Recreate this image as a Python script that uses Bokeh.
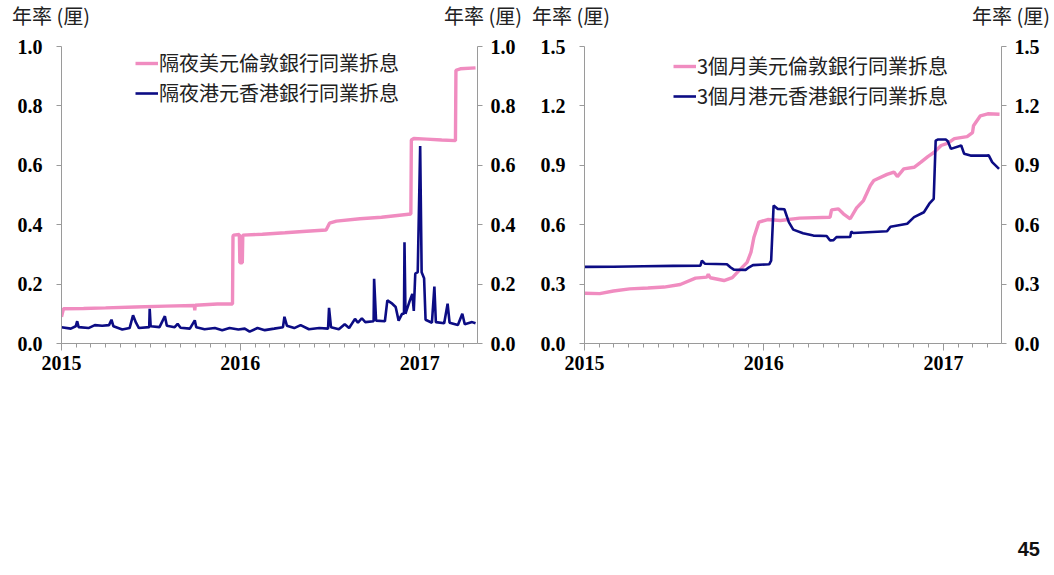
import pandas as pd
from bokeh.plotting import figure
from bokeh.models import (Range1d, LinearAxis, FixedTicker, NumeralTickFormatter,
                          DatetimeTickFormatter, Legend, LegendItem, Div)
from bokeh.layouts import row, column
from bokeh.embed import file_html
from bokeh.resources import INLINE

# ---------------- data ----------------
year_ticks = ["2015-01-01", "2016-01-01", "2017-01-01"]
x_start, x_end = "2015-01-01", "2017-04-29"

on_usd_dates = ["2015-01-01", "2015-01-05", "2015-02-15", "2015-04-01", "2015-06-01", "2015-08-01",
                "2015-09-29", "2015-09-30", "2015-10-01", "2015-11-15", "2015-12-16", "2015-12-17",
                "2015-12-18", "2015-12-30", "2015-12-31", "2016-01-05", "2016-01-06", "2016-02-15",
                "2016-04-01", "2016-05-15", "2016-06-24", "2016-07-01", "2016-07-15", "2016-09-01",
                "2016-10-15", "2016-12-14", "2016-12-15", "2016-12-20", "2017-01-15", "2017-02-15",
                "2017-03-15", "2017-03-16", "2017-03-25", "2017-04-25"]
on_usd_vals = [0.090, 0.117, 0.118, 0.120, 0.123, 0.126,
               0.128, 0.112, 0.129, 0.133, 0.133, 0.360,
               0.365, 0.367, 0.272, 0.272, 0.365, 0.368,
               0.373, 0.378, 0.382, 0.405, 0.412, 0.420,
               0.425, 0.436, 0.685, 0.690, 0.688, 0.685,
               0.683, 0.920, 0.925, 0.928]

on_hkd_dates = ["2015-01-01", "2015-01-20", "2015-01-30", "2015-02-02", "2015-02-05", "2015-02-25",
                "2015-03-10", "2015-03-25", "2015-04-08", "2015-04-13", "2015-04-17", "2015-05-05",
                "2015-05-20", "2015-05-27", "2015-06-02", "2015-06-08", "2015-06-29", "2015-06-30",
                "2015-07-02", "2015-07-20", "2015-07-31", "2015-08-04", "2015-08-20", "2015-08-26",
                "2015-09-01", "2015-09-20", "2015-09-30", "2015-10-03", "2015-10-20", "2015-11-10",
                "2015-11-25", "2015-12-10", "2015-12-28", "2016-01-10", "2016-01-20", "2016-02-05",
                "2016-02-20", "2016-03-10", "2016-03-28", "2016-03-31", "2016-04-05", "2016-04-20",
                "2016-05-03", "2016-05-20", "2016-06-10", "2016-06-28", "2016-06-30", "2016-07-04",
                "2016-07-20", "2016-08-01", "2016-08-10", "2016-08-22", "2016-08-28", "2016-09-05",
                "2016-09-12", "2016-09-29", "2016-09-30", "2016-10-04", "2016-10-22", "2016-10-27",
                "2016-11-06", "2016-11-13", "2016-11-19", "2016-11-26", "2016-11-30", "2016-12-01",
                "2016-12-03", "2016-12-12", "2016-12-17", "2016-12-20", "2016-12-23", "2016-12-28",
                "2017-01-02", "2017-01-05", "2017-01-10", "2017-01-13", "2017-01-26", "2017-01-31",
                "2017-02-03", "2017-02-20", "2017-02-27", "2017-03-03", "2017-03-20", "2017-03-29",
                "2017-04-03", "2017-04-18", "2017-04-25"]
on_hkd_vals = [0.055, 0.050, 0.058, 0.075, 0.055, 0.052,
               0.062, 0.060, 0.062, 0.080, 0.058, 0.047,
               0.052, 0.095, 0.070, 0.052, 0.055, 0.117,
               0.058, 0.055, 0.092, 0.060, 0.055, 0.066,
               0.053, 0.050, 0.078, 0.055, 0.048, 0.052,
               0.045, 0.052, 0.047, 0.050, 0.040, 0.052,
               0.045, 0.050, 0.055, 0.090, 0.060, 0.052,
               0.062, 0.048, 0.052, 0.050, 0.120, 0.055,
               0.048, 0.065, 0.052, 0.083, 0.070, 0.085,
               0.072, 0.075, 0.218, 0.077, 0.075, 0.145,
               0.134, 0.123, 0.077, 0.100, 0.100, 0.341,
               0.100, 0.145, 0.167, 0.110, 0.235, 0.240,
               0.665, 0.240, 0.220, 0.080, 0.070, 0.192,
               0.072, 0.068, 0.134, 0.070, 0.062, 0.100,
               0.065, 0.072, 0.068]

m3_usd_dates = ["2015-01-01", "2015-02-01", "2015-03-01", "2015-04-03", "2015-05-10", "2015-06-12",
                "2015-07-15", "2015-08-15", "2015-09-07", "2015-09-10", "2015-09-14", "2015-10-12",
                "2015-10-29", "2015-11-12", "2015-11-28", "2015-12-06", "2015-12-12", "2015-12-22",
                "2016-01-09", "2016-02-04", "2016-03-14", "2016-05-15", "2016-05-18", "2016-06-01",
                "2016-06-11", "2016-06-25", "2016-07-08", "2016-07-22", "2016-08-05", "2016-08-12",
                "2016-09-08", "2016-09-22", "2016-09-29", "2016-10-12", "2016-11-02", "2016-11-16",
                "2016-11-30", "2016-12-13", "2016-12-27", "2017-01-10", "2017-01-23", "2017-02-18",
                "2017-03-01", "2017-03-03", "2017-03-17", "2017-04-01", "2017-04-25"]
m3_usd_vals = [0.254, 0.252, 0.265, 0.276, 0.280, 0.285,
               0.298, 0.330, 0.335, 0.350, 0.332, 0.318,
               0.333, 0.369, 0.410, 0.461, 0.537, 0.613,
               0.626, 0.621, 0.633, 0.638, 0.675, 0.680,
               0.655, 0.630, 0.685, 0.722, 0.798, 0.823,
               0.854, 0.866, 0.843, 0.882, 0.890, 0.916,
               0.944, 0.966, 1.000, 1.012, 1.035, 1.045,
               1.065, 1.100, 1.150, 1.160, 1.158]

m3_hkd_dates = ["2015-01-01", "2015-03-01", "2015-05-01", "2015-07-01", "2015-08-25", "2015-08-28",
                "2015-09-03", "2015-10-18", "2015-10-25", "2015-11-01", "2015-11-25", "2015-12-02",
                "2015-12-10", "2016-01-12", "2016-01-16", "2016-01-21", "2016-01-29", "2016-02-12",
                "2016-02-21", "2016-03-01", "2016-03-21", "2016-04-11", "2016-05-08", "2016-05-15",
                "2016-05-22", "2016-05-28", "2016-06-25", "2016-06-27", "2016-07-01", "2016-09-08",
                "2016-09-15", "2016-10-19", "2016-11-02", "2016-11-22", "2016-12-03", "2016-12-12",
                "2016-12-16", "2016-12-20", "2017-01-06", "2017-01-10", "2017-01-16", "2017-02-06",
                "2017-02-12", "2017-02-25", "2017-03-30", "2017-04-03", "2017-04-10", "2017-04-24"]
m3_hkd_vals = [0.387, 0.388, 0.390, 0.392, 0.393, 0.418,
               0.403, 0.400, 0.385, 0.373, 0.372, 0.385,
               0.396, 0.400, 0.418, 0.697, 0.680, 0.678,
               0.613, 0.575, 0.557, 0.545, 0.543, 0.520,
               0.522, 0.537, 0.538, 0.565, 0.558, 0.567,
               0.590, 0.605, 0.638, 0.663, 0.706, 0.731,
               1.025, 1.030, 1.030, 1.020, 0.983, 1.000,
               0.958, 0.949, 0.949, 0.950, 0.916, 0.882]

left_ticks = [0.0, 0.2, 0.4, 0.6, 0.8, 1.0]
right_ticks = [0.0, 0.3, 0.6, 0.9, 1.2, 1.5]

unit_label = "年率 (厘)"
left_names = ["隔夜美元倫敦銀行同業拆息", "隔夜港元香港銀行同業拆息"]
right_names = ["3個月美元倫敦銀行同業拆息", "3個月港元香港銀行同業拆息"]
page_no = "45"

# ---------------- style ----------------
PINK = "#f08cc0"
NAVY = "#0c0c84"
AXIS = "#9a9a9a"
CJK = "Noto Sans CJK TC"
SERIF = "Liberation Serif"

year_ms = [pd.Timestamp(d).value / 1e6 for d in year_ticks]
month_ms = [t.value / 1e6 for t in pd.date_range("2015-01-01", "2017-04-01", freq="MS")]


def make_chart(width, bl, br, ymax, yticks, usd_d, usd_v, hkd_d, hkd_v, names, legend_xy):
    p = figure(width=width, height=353, output_backend="svg", toolbar_location=None,
               x_axis_type="datetime",
               x_range=Range1d(pd.Timestamp(x_start), pd.Timestamp(x_end)),
               y_range=Range1d(0, ymax),
               min_border_left=bl, min_border_right=br, min_border_top=16, min_border_bottom=40)
    p.outline_line_color = None
    p.grid.visible = False
    p.background_fill_color = "white"

    r1 = p.line(pd.to_datetime(usd_d), usd_v, line_color=PINK, line_width=3.4)
    r2 = p.line(pd.to_datetime(hkd_d), hkd_v, line_color=NAVY, line_width=2.6)

    xa = p.xaxis[0]
    xa.ticker = FixedTicker(ticks=year_ms, minor_ticks=month_ms)
    xa.formatter = DatetimeTickFormatter(years="%Y", months="%Y", days="%Y", hours="%Y",
                                         minutes="%Y", seconds="%Y", milliseconds="%Y",
                                         microseconds="%Y", hourmin="%Y", minsec="%Y")
    ya = p.yaxis[0]
    ya.ticker = FixedTicker(ticks=yticks)
    ya.formatter = NumeralTickFormatter(format="0.0")
    ra = LinearAxis(ticker=FixedTicker(ticks=yticks), formatter=NumeralTickFormatter(format="0.0"))
    p.add_layout(ra, "right")

    for ax in [xa, ya, ra]:
        ax.axis_line_color = AXIS
        ax.major_tick_line_color = AXIS
        ax.minor_tick_line_color = AXIS
        ax.major_label_text_font = SERIF
        ax.major_label_text_font_style = "bold"
        ax.major_label_text_font_size = "20px"
        ax.major_label_text_color = "black"
        ax.major_tick_in = 0
        ax.minor_tick_in = 0
    xa.major_tick_out = 7
    xa.minor_tick_out = 4
    xa.major_label_standoff = 5
    for ax in [ya, ra]:
        ax.major_tick_out = 5
        ax.minor_tick_line_color = None
    ya.major_label_standoff = 14
    ra.major_label_standoff = 8

    legend = Legend(items=[LegendItem(label=names[0], renderers=[r1]),
                           LegendItem(label=names[1], renderers=[r2])],
                    location=legend_xy, orientation="vertical",
                    background_fill_alpha=0, border_line_alpha=0,
                    padding=0, margin=0, spacing=1,
                    glyph_width=23, glyph_height=26, label_height=26, label_standoff=1,
                    label_text_font=CJK, label_text_font_size="20px", label_text_color="#222222")
    p.add_layout(legend)
    return p


p1 = make_chart(530, 61, 53, 1.0, left_ticks, on_usd_dates, on_usd_vals, on_hkd_dates, on_hkd_vals,
                left_names, (74, 236))
p2 = make_chart(522, 54, 51, 1.5, right_ticks, m3_usd_dates, m3_usd_vals, m3_hkd_dates, m3_hkd_vals,
                right_names, (89, 233))


def unit_span(pos):
    return ('<span style="position:absolute; top:2px; ' + pos + ' white-space:nowrap; '
            'font-family:\'Noto Sans CJK TC\'; font-size:20px; line-height:28px; color:#222;">'
            + unit_label + '</span>')


top = Div(text=unit_span("left:12px;") + unit_span("right:530px;")
          + unit_span("left:532px;") + unit_span("right:2px;"),
          width=1052, height=30, margin=0)

bottom = Div(text='<div style="position:absolute; right:12px; top:152px; '
                  'font-family:\'Liberation Sans\'; font-weight:bold; font-size:20px; color:#111;">'
                  + page_no + '</div>',
             width=1052, height=185, margin=0)

layout = column(top, row(p1, p2), bottom)
open("out.html", "w").write(file_html(layout, INLINE))
